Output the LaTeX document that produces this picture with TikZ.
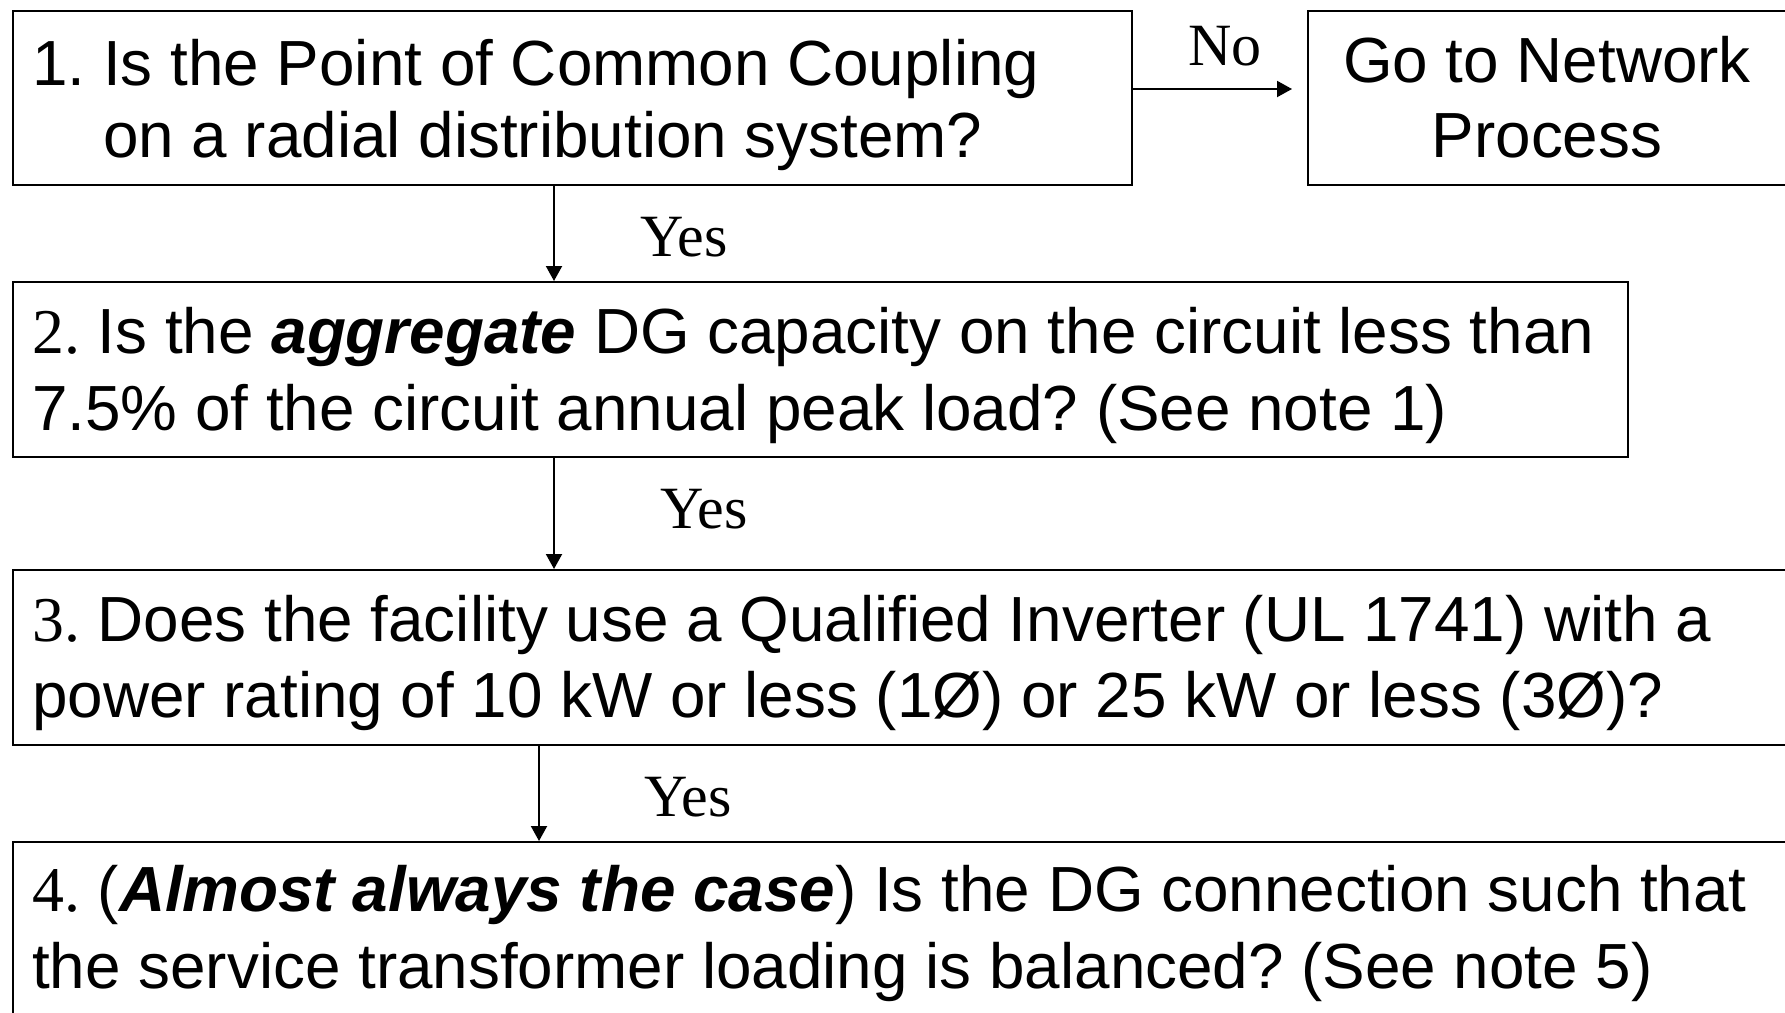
\documentclass[tikz,border=0pt]{standalone}
\usepackage{fontspec}
\setmainfont{Liberation Sans}
\newfontfamily\numfont{Liberation Serif}
\usetikzlibrary{arrows.meta}

\begin{document}
\frenchspacing
\begin{tikzpicture}[x=1pt, y=-1pt,
  qbox/.style={draw, line width=2pt, inner sep=0pt, anchor=north west},
  qtext/.style={inner sep=0pt, align=left, anchor=north west},
  big/.style={font=\fontsize{63.8}{#1}\selectfont\frenchspacing},
  answer/.style={inner sep=0pt, anchor=base west, font=\numfont\fontsize{60}{70}\selectfont},
  arr/.style={line width=2pt, -{Triangle[length=15pt,width=16pt]}}]

\useasboundingbox (0,0) rectangle (1785,1012);
\clip (0,0) rectangle (1785,1012);

% question boxes
\node[qbox, minimum width=1119pt, minimum height=174pt] (b1) at (12,10) {};
\node[qbox, minimum width=483pt,  minimum height=174pt] (go) at (1307,10) {};
\node[qbox, minimum width=1615pt, minimum height=175pt] (b2) at (12,281) {};
\node[qbox, minimum width=1790pt, minimum height=175pt] (b3) at (12,569) {};
\node[qbox, minimum width=1790pt, minimum height=190pt] (b4) at (12,841) {};

% box texts
\node[qtext, big=72] (t1) at (32,34.6)
  {\strut 1. Is the Point of Common Coupling\\
   \strut\hphantom{1.\ }on a radial distribution system?};
\node[qtext, big=75, align=center, anchor=north] (tgo) at (1547,29.5)
  {\strut Go to Network\\ \strut Process};
\node[qtext, big=77] (t2) at (32,299.1)
  {\strut{\numfont 2.} Is the \textbf{\textit{aggregate}} DG capacity on the circuit less than\\
   \strut 7.5\% of the circuit annual peak load? (See note 1)};
\node[qtext, big=76] (t3) at (32,587.8)
  {\strut{\numfont 3.} Does the facility use a Qualified Inverter (UL 1741) with a\\
   \strut power rating of 10 kW or less (1Ø) or 25 kW or less (3Ø)?};
\node[qtext, big=77] (t4) at (32,857.1)
  {\strut{\numfont 4.} (\textbf{\textit{Almost always the case}}) Is the DG connection such that\\
   \strut the service transformer loading is balanced? (See note 5)};

% connectors
\draw[arr] ([yshift=9pt]b1.east) -- ([yshift=9pt]go.west) [shorten >=15pt];
\draw[arr] ([xshift=542pt]b1.south west) -- ([xshift=542pt]b2.north west);
\draw[arr] ([xshift=542pt]b2.south west) -- ([xshift=542pt]b3.north west);
\draw[arr] ([xshift=527pt]b3.south west) -- ([xshift=527pt]b4.north west);

% answer labels
\node[answer] (no)   at (1188,65)  {No};
\node[answer] (yes1) at (640,256)  {Yes};
\node[answer] (yes2) at (660,528)  {Yes};
\node[answer] (yes3) at (644,816)  {Yes};
\end{tikzpicture}
\end{document}
